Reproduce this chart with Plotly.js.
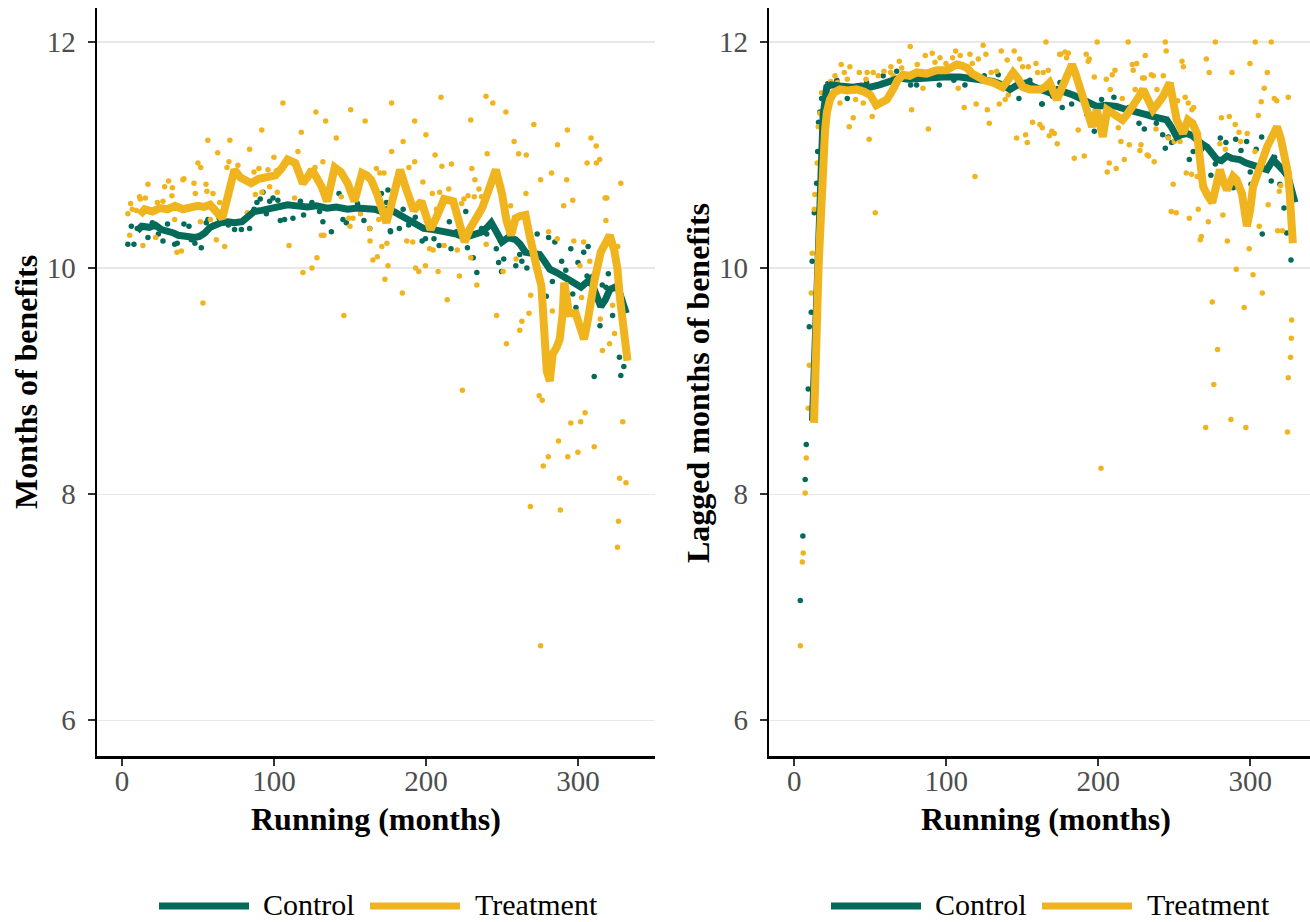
<!DOCTYPE html>
<html>
<head>
<meta charset="utf-8">
<script src="https://cdn.plot.ly/plotly-3.0.1.min.js"></script>
<style>html,body{margin:0;padding:0;background:#fff;}#chart{width:1310px;height:922px;}</style>
</head>
<body>
<div id="chart"></div>
<script>
// ---------- DATA ----------
const seriesNames = ["Control", "Treatment"];
const xTicks = [0, 100, 200, 300];
const yTicks = [6, 8, 10, 12];
const xTitle = "Running (months)";
const yTitleLeft = "Months of benefits";
const yTitleRight = "Lagged months of benefits";

// Left panel: smoothed lines [month, value]
const ctrlLine1 = [[10,10.33],[13,10.37],[18,10.36],[22,10.38],[26,10.34],[30,10.33],[34,10.31],[37,10.29],[42,10.28],[48,10.27],[51,10.28],[54.5,10.31],[58,10.36],[61,10.38],[65,10.40],[69.5,10.41],[74,10.40],[79,10.41],[83,10.45],[87,10.50],[92,10.51],[98.5,10.53],[104,10.55],[109,10.56],[115,10.55],[122,10.54],[128,10.55],[135,10.53],[141,10.54],[148.5,10.52],[155,10.53],[161.5,10.53],[166,10.52],[171,10.50],[175,10.52],[178.7,10.50],[183,10.47],[187,10.44],[192,10.41],[198.5,10.35],[205,10.34],[210,10.33],[214,10.32],[220,10.30],[225.5,10.27],[231,10.29],[237,10.32],[241,10.37],[243,10.40],[246,10.33],[250,10.23],[254,10.27],[259,10.25],[262,10.21],[265.5,10.14],[270,10.13],[274.8,10.12],[278,10.06],[281.5,9.99],[286,9.96],[290.6,9.93],[296,9.88],[302,9.83],[305,9.86],[308,9.90],[311,9.80],[315,9.66],[318,9.72],[321,9.81],[326,9.84],[329,9.72],[331.8,9.60]];
const trtLine1 = [[11.7,10.47],[15,10.52],[20,10.50],[25,10.53],[30,10.52],[35,10.55],[40,10.52],[45,10.53],[50,10.55],[54,10.54],[58,10.56],[62,10.50],[66,10.44],[69,10.60],[72,10.80],[74,10.87],[78,10.80],[82,10.76],[85,10.75],[90,10.79],[96,10.80],[101,10.82],[105,10.88],[109,10.96],[114,10.93],[119,10.75],[122,10.80],[125,10.87],[128,10.80],[131.4,10.72],[135,10.59],[137,10.70],[140,10.89],[144,10.85],[148.5,10.75],[153,10.59],[158,10.84],[161,10.82],[164,10.78],[168,10.65],[171,10.51],[174,10.40],[177,10.55],[180,10.75],[183,10.87],[187,10.70],[192,10.51],[197,10.59],[200,10.48],[203,10.34],[207,10.45],[212,10.61],[218,10.59],[222,10.40],[225.5,10.23],[229,10.35],[232,10.42],[237,10.53],[241,10.68],[246,10.87],[250,10.66],[253,10.42],[256,10.29],[259,10.44],[262,10.46],[265.5,10.47],[268,10.30],[270,10.14],[273,10.00],[276,9.84],[278,9.40],[279.5,9.09],[281.5,9.00],[283.4,9.24],[286,9.30],[288,9.37],[290,9.60],[291,9.87],[293,9.70],[294,9.60],[298.5,9.60],[302,9.45],[304,9.37],[306,9.50],[308,9.69],[311,9.90],[315,10.14],[318,10.20],[321,10.29],[324,10.15],[326,9.99],[327.5,9.75],[329,9.54],[332.6,9.18]];

// Left panel: monthly points
const ctrlPts1 = [[3.9,10.21],[7.9,10.21],[6.2,10.37],[10.1,10.35],[17.1,10.27],[27,10.24],[34.7,10.21],[36.4,10.22],[40.8,10.39],[44.1,10.37],[45.6,10.25],[52.2,10.18],[55.5,10.40],[56.6,10.43],[60.3,10.38],[74.1,10.34],[78.6,10.34],[84,10.35],[86.9,10.52],[88.8,10.58],[91,10.61],[92.8,10.67],[97.2,10.59],[99.4,10.62],[102.6,10.60],[104.2,10.42],[107,10.43],[112.5,10.44],[117.4,10.59],[119.5,10.47],[132.2,10.41],[137.8,10.32],[142.8,10.66],[145.4,10.43],[147.6,10.40],[150.9,10.66],[159.2,10.42],[163,10.35],[170.7,10.66],[175,10.69],[176.6,10.33],[174,10.58],[176.7,10.32],[182.5,10.35],[188.6,10.38],[193,10.45],[197.5,10.24],[199.7,10.26],[205.3,10.26],[208.7,10.20],[216.5,10.17],[215.4,10.41],[226.2,10.50],[227.3,10.18],[231.1,10.09],[233.5,9.96],[236.6,10.35],[246.3,10.17],[247.8,10.05],[249.7,9.97],[251.2,10.08],[259.1,10.02],[261.7,10.12],[263.1,10.06],[266.4,10.00],[273.2,10.30],[280.7,10.27],[284.8,10.23],[289.3,10.06],[283.2,9.88],[279.2,9.75],[295.3,10.17],[300,10.05],[303.8,10.14],[306.7,10.19],[306,9.93],[298.7,9.65],[296.6,9.77],[314.5,9.49],[310.7,9.04],[322.8,9.58],[328.2,9.05],[327.3,9.21],[330.2,9.13],[320,9.95],[318.4,9.83],[312.8,9.74],[20,10.40],[24,10.30],[30,10.39],[48,10.22],[64,10.44],[70,10.38],[95,10.48],[125,10.58],[130,10.50],[155,10.57],[185,10.52],[220,10.32],[240,10.30],[255,10.30],[270,10.20],[292,9.98],[316,9.85]];
const trtPts1 = [[3.9,10.48],[5.7,10.57],[6.8,10.52],[9.5,10.51],[5.1,10.29],[11.6,10.63],[12.1,10.61],[15.4,10.62],[17.1,10.74],[22.2,10.27],[13.8,10.20],[23.3,10.58],[27,10.59],[28.1,10.72],[30.7,10.77],[33.2,10.71],[32.9,10.64],[34.7,10.43],[36.2,10.14],[39.1,10.15],[40.1,10.78],[40.8,10.79],[47.4,10.75],[48.3,10.66],[50,10.93],[51.8,10.89],[51.6,10.41],[55.3,10.74],[55.9,10.68],[58.2,10.43],[59.9,10.66],[62.1,10.25],[64.3,10.58],[67.6,10.19],[69.1,10.89],[70.4,10.94],[73,10.83],[76.3,10.91],[82.5,10.49],[86.9,10.85],[90.1,10.88],[87.8,10.65],[92.1,10.67],[96.1,10.87],[97.2,10.72],[100,10.98],[101.6,10.86],[102.2,10.67],[109.9,10.20],[113.6,10.62],[115.8,11.03],[119.1,9.96],[125,10.00],[127,10.89],[128.3,10.09],[132.2,10.94],[131.2,10.29],[132.9,10.29],[144.3,10.63],[146,9.58],[149.2,10.44],[152,10.44],[150,10.37],[157,10.48],[163.2,10.24],[163,10.35],[165.1,10.07],[167.4,10.88],[168,10.10],[169.7,10.84],[172.4,10.84],[169,10.43],[171,10.19],[173,9.90],[174.3,10.22],[175,10.02],[53.3,9.69],
[177.4,11.03],[206,11.00],[240.3,11.01],[261,11.01],[210.5,10.90],[216.8,10.92],[192.6,10.94],[188.8,10.89],[230.2,10.88],[232.2,10.78],[198,10.76],[234.9,10.70],[215,10.70],[204.2,10.66],[209,10.67],[227.7,10.64],[223.5,10.57],[225,10.61],[231.8,10.63],[236.6,10.63],[206.9,10.52],[255.7,10.55],[265.8,10.66],[275.4,10.78],[282.6,10.84],[292.6,10.78],[306,10.93],[312.1,10.93],[314.3,10.96],[328.2,10.75],[296.6,10.60],[290.6,10.55],[317.9,10.62],[319,10.62],[318.4,10.42],[187.4,10.24],[191.3,10.23],[202.4,10.17],[204.7,10.16],[212,10.20],[220.6,10.16],[239.6,10.21],[248.8,10.24],[193.2,10.00],[195.3,9.97],[199.7,10.02],[208,9.97],[222,9.93],[184.5,9.78],[214,9.72],[233.5,9.85],[229.5,10.09],[250.8,9.97],[268.9,9.76],[280.7,10.32],[286.4,10.26],[297.3,10.24],[303.8,10.23],[301.3,10.02],[307.8,10.06],[302.4,9.74],[326.2,10.19],[322.8,9.67],[324.1,9.42],[320.8,9.33],[316.1,9.27],[314.7,9.55],[283.2,9.62],[267.8,9.60],[263.1,9.53],[261.7,9.45],[246.5,9.58],[253,9.33],[224,8.92],[274.5,8.87],[276.5,8.83],[304.7,8.72],[301.8,8.64],[295.3,8.63],[287.2,8.47],[280.5,8.33],[277.2,8.25],[293.3,8.33],[300,8.37],[310.7,8.42],[329.5,8.64],[331.6,8.10],[259.3,10.08],
[268.7,7.89],[288.4,7.86],[275.4,6.66],[326,7.53],[326.7,7.76],[327.4,8.14],
[105.9,11.46],[56.5,11.13],[71,11.13],[92,11.22],[127.6,11.38],[134,11.30],[150.5,11.40],[160,11.30],[141,11.15],[177.4,11.46],[209.9,11.51],[239.5,11.52],[244,11.46],[252.6,11.38],[271,11.27],[229.5,11.31],[192.6,11.30],[286.6,11.09],[293,11.22],[308.6,11.15],[312,11.08],[118,11.20],[84,11.05],[63,11.02],[185,11.12],[200,11.18],[258,11.12],[266,11.00]];

// Right panel: smoothed lines
const ctrlLine2 = [[12,8.65],[13,9.10],[14,9.55],[15,9.95],[16,10.40],[17,10.80],[18,11.10],[19,11.35],[21.4,11.60],[24,11.62],[30,11.61],[38.5,11.60],[44,11.61],[50,11.60],[56,11.62],[62,11.65],[69.5,11.68],[75,11.67],[80.6,11.67],[88,11.68],[98,11.69],[109,11.69],[120,11.67],[131,11.65],[137,11.62],[142,11.58],[147,11.62],[153,11.64],[158,11.60],[164,11.56],[168,11.55],[173,11.58],[178,11.56],[183.4,11.53],[190,11.49],[199,11.43],[205,11.44],[212,11.43],[219,11.40],[225.5,11.37],[231,11.36],[236,11.34],[240,11.33],[245,11.31],[248,11.25],[251.6,11.16],[255,11.18],[258.5,11.19],[262,11.17],[265,11.13],[268,11.10],[271.6,11.07],[275,11.02],[278,10.96],[281,10.95],[284.7,10.99],[288,10.97],[293,10.96],[297,10.93],[301.8,10.90],[306,10.89],[311,10.87],[315,10.96],[317,10.93],[319.6,10.90],[322,10.86],[324.8,10.81],[327,10.72],[329.4,10.58]];
const trtLine2 = [[13,8.63],[13.6,9.00],[14,9.30],[15,9.70],[16,10.00],[17,10.30],[18,10.70],[19,10.95],[20.3,11.22],[21.5,11.38],[23.5,11.49],[26,11.55],[30,11.58],[35,11.57],[41,11.58],[46,11.56],[50,11.53],[54,11.44],[57,11.46],[61,11.49],[65,11.58],[68,11.66],[71.6,11.71],[76,11.70],[80.6,11.73],[87,11.72],[93.8,11.75],[100,11.75],[104,11.78],[107,11.80],[110,11.79],[113.6,11.77],[117,11.72],[120,11.69],[125,11.66],[131,11.64],[137,11.60],[140,11.65],[144,11.73],[147,11.68],[150.5,11.60],[155,11.58],[161.6,11.58],[165,11.60],[168,11.64],[172.8,11.49],[176,11.58],[179,11.70],[182.7,11.80],[185,11.72],[188,11.60],[192,11.42],[196,11.25],[199,11.40],[203,11.16],[205.8,11.40],[210,11.36],[216,11.31],[219,11.36],[223,11.43],[226,11.50],[229.5,11.58],[233,11.48],[236,11.40],[239,11.45],[242.7,11.52],[247,11.64],[249,11.50],[251.6,11.31],[255.8,11.19],[259,11.31],[262,11.28],[265,11.19],[267,10.95],[269,10.72],[272,10.64],[275,10.58],[278,10.75],[280,10.87],[282,10.78],[284.7,10.69],[288.7,10.81],[291,10.78],[294.5,10.66],[296,10.50],[297.8,10.37],[300,10.52],[301.8,10.72],[304,10.80],[306.4,10.90],[309,11.00],[311,11.07],[314,11.15],[317.6,11.25],[320,11.15],[321.5,11.07],[323,10.95],[324.8,10.84],[326,10.65],[327.4,10.43],[328,10.22]];

// Right panel: monthly points
const ctrlPts2 = [[4,7.06],[5.7,7.63],[7.2,8.13],[7.9,8.44],[9.2,8.93],[9.9,9.48],[11.2,9.61],[11.8,10.06],[13.2,10.49],[14.7,10.75],[15.4,11.03],[16,11.29],[16.9,11.38],[18,11.50],[22,11.63],[67.4,11.74],[76.6,11.62],[80.5,11.62],[95.4,11.62],[112.3,11.62],[134.2,11.71],[163.2,11.45],[147.8,11.50],[34.9,11.50],[47.6,11.64],[58.5,11.70],[162.8,11.45],[174.8,11.64],[176.3,11.42],[182.5,11.45],[192.4,11.36],[197.4,11.21],[202.2,11.49],[210.3,11.51],[226.8,11.28],[230.3,11.23],[238.2,11.28],[242.4,11.18],[244.1,11.06],[246.1,11.16],[248.3,11.11],[259.9,10.96],[262.5,11.03],[274.1,10.82],[280.3,11.15],[284,11.11],[290.4,11.14],[293.9,11.04],[297.6,11.12],[303.9,11.05],[307.5,11.16],[313.8,10.77],[307.9,10.30],[319.5,10.74],[322.2,10.53],[324,10.31],[326.8,10.07],[300.5,10.74],[288.8,10.71],[28,11.66],[40,11.57],[88,11.72],[105,11.66],[125,11.70],[155,11.66],[170,11.52],[188,11.53],[220,11.42],[235,11.38],[255,11.22],[268,11.05],[277,10.92],[300,10.85],[316,10.98]];
const trtPts2 = [[4,6.66],[5.3,7.40],[5.9,7.48],[7.2,8.01],[7.9,8.32],[9.2,8.76],[9.9,9.14],[11.2,9.78],[11.8,10.13],[13.2,10.52],[13.6,10.65],[15.1,10.93],[15.8,11.25],[16.9,11.37],[18,11.55],[20.2,11.55],[21.3,11.61],[24.1,11.65],[26.8,11.70],[28.5,11.64],[30.1,11.46],[30.9,11.80],[32.9,11.73],[34.9,11.67],[36.2,11.25],[36.6,11.78],[38.8,11.33],[40.4,11.49],[42.8,11.73],[45.4,11.46],[47.2,11.67],[48,11.73],[49.3,11.14],[51.3,11.34],[52,11.73],[53.3,10.49],[55.3,11.70],[59,11.74],[63.6,11.78],[63.4,11.73],[65.1,11.70],[69.1,11.83],[70.7,11.77],[76.3,11.96],[77.2,11.40],[80.9,11.80],[84.7,11.59],[86.2,11.88],[88.2,11.23],[90.8,11.90],[92.6,11.82],[95.9,11.86],[99.8,11.81],[104.2,11.86],[106.2,11.92],[107.9,11.59],[109.2,11.88],[111.8,11.42],[115.6,11.89],[117.1,11.81],[119.7,11.45],[121.1,11.85],[124.3,11.97],[126.1,11.89],[127,11.40],[128.3,11.28],[129.6,11.73],[133.2,11.74],[134.9,11.45],[136.2,11.92],[138.8,11.49],[140.1,11.84],[140.8,11.53],[144.7,11.92],[146.3,11.15],[148.3,11.85],[150.3,11.78],[152.2,11.18],[153.3,11.11],[154,11.78],[156.8,11.29],[159,11.81],[160.1,11.73],[161.6,11.27],[163.2,11.24],[163.8,11.73],[165.6,12.00],[167.1,11.75],[167.8,11.17],[169.5,11.21],[171.1,11.19],[173,11.10],[174.6,11.89],[118.9,10.81],
[199.3,12.00],[219.7,12.00],[244.1,12.00],[277,12.00],[303.3,12.00],[313.8,12.00],[175.3,11.89],[178.1,11.91],[180.3,11.90],[179.2,11.86],[192.1,11.89],[193.4,11.83],[194.1,11.85],[197.4,11.69],[205.3,11.67],[209.2,11.71],[211,11.75],[207.9,11.58],[222.4,11.80],[225.3,11.81],[223,11.75],[230.9,11.88],[229.2,11.68],[230.3,11.68],[234.9,11.71],[236.2,11.70],[242.8,11.70],[244.7,11.92],[238.6,11.58],[224.3,11.58],[255.1,11.83],[256,11.78],[271.1,11.85],[273,11.73],[288,11.73],[299.8,11.81],[311.2,11.73],[309.2,11.59],[307.2,11.47],[315.8,11.50],[317.4,11.48],[325,11.51],[305.3,11.35],[281,11.33],[286.2,11.34],[290.1,11.27],[292.6,11.20],[298,11.19],[293.7,11.12],[257.2,11.51],[259.2,11.46],[262.8,11.42],[261.6,11.40],[252.2,11.48],[215.8,11.50],[213.2,11.24],[238,11.23],[186.8,11.22],[214.9,11.12],[220.4,11.09],[228.1,11.09],[227.4,11.04],[232.2,11.00],[233.1,10.99],[236.8,10.94],[217.1,10.96],[207.2,10.93],[205.9,10.85],[211.8,10.88],[184.2,10.97],[190.8,10.99],[250,11.12],[253.8,11.12],[246.1,11.15],[249.3,10.74],[257.9,10.84],[261.4,10.83],[265.1,10.81],[280,11.10],[283.6,11.05],[303.1,11.03],[319.1,10.68],[311.8,10.56],[248,10.50],[251.3,10.49],[265.8,10.52],[259.9,10.44],[272.4,10.41],[282,10.47],[267.8,10.28],[267.1,10.25],[284.9,10.24],[299.3,10.17],[305.9,10.37],[318,10.33],[321.1,10.33],[320,10.73],[290.8,9.99],[301.8,9.94],[307.9,9.78],[275,9.70],[296,9.65],[327.2,9.54],
[201.8,8.23],[270.7,8.59],[276,8.97],[278.5,9.28],[287.3,8.66],[297.1,8.59],[327,9.38],[326.5,9.21],[325,9.03],[324.5,8.55]];

// ---------- STYLE ----------
const GREEN = "#046a5a";
const GOLD = "#f0b41e";
const FONT = "Liberation Serif, Times New Roman, serif";
const W = 1310, H = 922;

const xs = a => a.map(p => p[0]);
const ys = a => a.map(p => p[1]);

function pts(d, color, xa, ya, name) {
  return {type: "scatter", mode: "markers", x: xs(d), y: ys(d), xaxis: xa, yaxis: ya, name: name,
    marker: {color: color, size: 5.5, line: {width: 0}}, showlegend: false, hoverinfo: "x+y"};
}
function line(d, color, width, xa, ya, name) {
  return {type: "scatter", mode: "lines", x: xs(d), y: ys(d), xaxis: xa, yaxis: ya, name: name,
    line: {color: color, width: width}, showlegend: false, hoverinfo: "x+y"};
}

const traces = [
  pts(ctrlPts1, GREEN, "x", "y", seriesNames[0]),
  pts(trtPts1, GOLD, "x", "y", seriesNames[1]),
  line(ctrlLine1, GREEN, 7, "x", "y", seriesNames[0]),
  line(trtLine1, GOLD, 8, "x", "y", seriesNames[1]),
  pts(ctrlPts2, GREEN, "x2", "y2", seriesNames[0]),
  pts(trtPts2, GOLD, "x2", "y2", seriesNames[1]),
  line(ctrlLine2, GREEN, 7, "x2", "y2", seriesNames[0]),
  line(trtLine2, GOLD, 8, "x2", "y2", seriesNames[1])
];

const tickFont = {family: FONT, size: 29, color: "#4d4d4d"};
function xAxis(domain, range, anchor) {
  return {domain: domain, range: range, anchor: anchor, tickvals: xTicks, ticktext: xTicks.map(String),
    showgrid: false, zeroline: false, showline: true, linecolor: "#000", linewidth: 2.5,
    ticks: "outside", ticklen: 7, tickwidth: 2, tickcolor: "#333", tickfont: tickFont, ticklabelstandoff: -9};
}
function yAxis(anchor) {
  return {domain: [166 / H, 914 / H], range: [5.684, 12.30], anchor: anchor, tickvals: yTicks, ticktext: yTicks.map(String),
    showgrid: true, gridcolor: "#e8e8e8", gridwidth: 1.2, zeroline: false, showline: true, linecolor: "#000", linewidth: 2.5,
    ticks: "outside", ticklen: 7, tickwidth: 2, tickcolor: "#333", tickfont: tickFont, ticklabelstandoff: 6};
}

const px = v => v / W;
const py = v => 1 - v / H;
const titleFont = {family: FONT, size: 32, color: "#000"};
const legFont = {family: FONT, size: 30, color: "#000"};

const annotations = [
  {text: "<b>" + xTitle + "</b>", x: px(376), y: py(819), xref: "paper", yref: "paper", xanchor: "center", yanchor: "middle", showarrow: false, font: titleFont},
  {text: "<b>" + xTitle + "</b>", x: px(1046), y: py(819), xref: "paper", yref: "paper", xanchor: "center", yanchor: "middle", showarrow: false, font: titleFont},
  {text: "<b>" + yTitleLeft + "</b>", x: px(26), y: py(382), xref: "paper", yref: "paper", xanchor: "center", yanchor: "middle", textangle: -90, showarrow: false, font: titleFont},
  {text: "<b>" + yTitleRight + "</b>", x: px(698), y: py(383), xref: "paper", yref: "paper", xanchor: "center", yanchor: "middle", textangle: -90, showarrow: false, font: titleFont}
];
const shapes = [];
[0, 672].forEach(off => {
  shapes.push({type: "line", xref: "paper", yref: "paper", x0: px(159 + off), x1: px(249 + off), y0: py(906), y1: py(906), line: {color: GREEN, width: 7}});
  shapes.push({type: "line", xref: "paper", yref: "paper", x0: px(370 + off), x1: px(460 + off), y0: py(906), y1: py(906), line: {color: GOLD, width: 7}});
  annotations.push({text: seriesNames[0], x: px(261 + off), y: py(904), xref: "paper", yref: "paper", xanchor: "left", yanchor: "middle", showarrow: false, font: legFont});
  annotations.push({text: seriesNames[1], x: px(473 + off), y: py(904), xref: "paper", yref: "paper", xanchor: "left", yanchor: "middle", showarrow: false, font: legFont});
});

const layout = {
  width: W, height: H,
  margin: {l: 0, r: 0, t: 0, b: 0},
  paper_bgcolor: "#fff", plot_bgcolor: "#fff",
  showlegend: false,
  xaxis: xAxis([97 / W, 655 / W], [-16.4, 350.7], "y"),
  yaxis: yAxis("x"),
  xaxis2: xAxis([769.3 / W, 1], [-16.4, 339.3], "y2"),
  yaxis2: yAxis("x2"),
  annotations: annotations,
  shapes: shapes,
  font: {family: FONT}
};

Plotly.newPlot("chart", traces, layout, {displayModeBar: false, staticPlot: true});
</script>
</body>
</html>
